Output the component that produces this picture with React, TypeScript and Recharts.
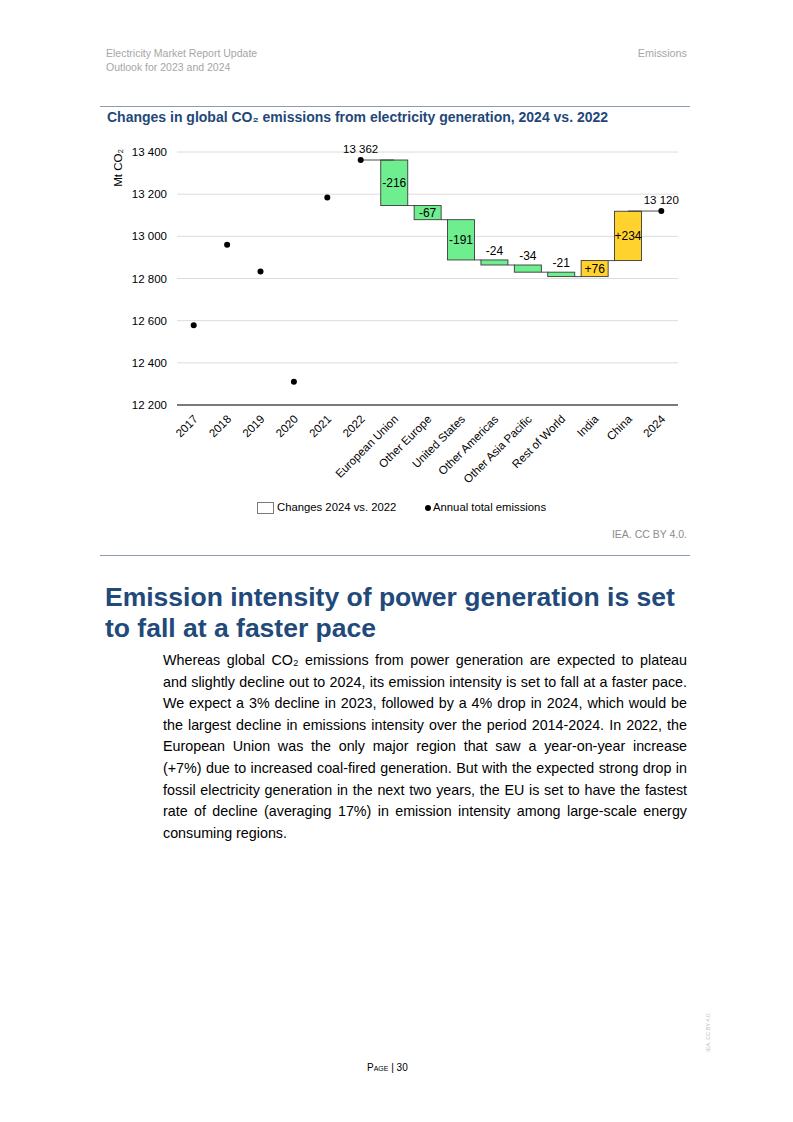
import React from "react";
import {
  ComposedChart,
  Bar,
  Line,
  XAxis,
  YAxis,
  CartesianGrid,
  LabelList,
} from "recharts";

const categories = [
  "2017", "2018", "2019", "2020", "2021", "2022",
  "European Union", "Other Europe", "United States", "Other Americas",
  "Other Asia Pacific", "Rest of World", "India", "China", "2024",
];
const annualTotals: (number | null)[] = [
  12578, 12960, 12833, 12310, 13184, 13362,
  null, null, null, null, null, null, null, null, 13120,
];
const changes: (number | null)[] = [
  null, null, null, null, null, null,
  -216, -67, -191, -24, -34, -21, 76, 234, null,
];
const yTicks = [12200, 12400, 12600, 12800, 13000, 13200, 13400];

const FONT = '"Liberation Sans", Arial, sans-serif';
const GREEN = "#6eee8e";
const YELLOW = "#ffd22e";
const EDGE = "#3a3a3a";

// waterfall ranges start from the last annual total before the bars
let level = 0;
const rows = categories.map((name, i) => {
  const total = annualTotals[i];
  const delta = changes[i];
  let range: [number, number] | null = null;
  if (delta != null) {
    const start = level;
    level = start + delta;
    range = [Math.min(start, level), Math.max(start, level)];
  } else if (total != null) {
    level = total;
  }
  return { name, total, delta, range, link: null as number | null };
});
rows.forEach((r, i) => {
  const prev = rows[i - 1];
  const next = rows[i + 1];
  if (r.total != null && next && next.delta != null) {
    r.link = r.total;
    next.link = r.total;
  }
  if (r.total != null && prev && prev.delta != null) {
    r.link = r.total;
    prev.link = r.total;
  }
});

const fmt = (v: number) =>
  String(Math.round(v)).replace(/\B(?=(\d{3})+(?!\d))/g, " ");

const WaterfallBar = (props: any) => {
  const { x, y, width, height, payload } = props;
  const i = categories.indexOf(payload?.name);
  const row = rows[i];
  if (!row || row.delta == null) return null;
  const neg = row.delta < 0;
  const band = width / 0.8;
  const endY = neg ? y + height : y;
  const next = rows[i + 1];
  const label = (neg ? "" : "+") + row.delta;
  const inside = Math.abs(row.delta) >= 50;
  return (
    <g>
      <rect
        x={x}
        y={y}
        width={width}
        height={height}
        fill={neg ? GREEN : YELLOW}
        stroke={EDGE}
        strokeWidth={0.9}
      />
      {next && next.delta != null && (
        <line x1={x + width} x2={x + band} y1={endY} y2={endY} stroke={EDGE} strokeWidth={0.9} />
      )}
      <text
        x={x + width / 2}
        y={inside ? y + height / 2 : y - 5}
        textAnchor="middle"
        dominantBaseline={inside ? "central" : "auto"}
        fontSize={12}
        fontFamily={FONT}
        fill="#000"
      >
        {label}
      </text>
    </g>
  );
};

const TotalLabel = (props: any) => {
  const { x, y, index } = props;
  const row = rows[index];
  if (!row || row.total == null || row.link == null) return null;
  return (
    <text x={x} y={y - 7} textAnchor="middle" fontSize={11.5} fontFamily={FONT} fill="#000">
      {fmt(row.total)}
    </text>
  );
};

const XTick = (props: any) => {
  const { x, y, payload } = props;
  const ax = x + 2;
  const ay = y + 4;
  return (
    <text
      x={ax}
      y={ay}
      transform={`rotate(-45 ${ax} ${ay})`}
      textAnchor="end"
      dominantBaseline="central"
      fontSize={11.5}
      fontFamily={FONT}
      fill="#000"
    >
      {payload.value}
    </text>
  );
};

const abs = (left: number, top: number, extra: React.CSSProperties = {}): React.CSSProperties => ({
  position: "absolute",
  left,
  top,
  fontFamily: FONT,
  whiteSpace: "nowrap",
  ...extra,
});

export default function App() {
  return (
    <div style={{ position: "absolute", left: 0, top: 0, width: 793, height: 1122, background: "#fff", fontFamily: FONT }}>
      <div style={abs(106, 47, { fontSize: 10.5, color: "#a6a6a6", lineHeight: "13.5px" })}>
        Electricity Market Report Update
        <br />
        Outlook for 2023 and 2024
      </div>
      <div style={abs(0, 47, { left: "auto", right: 106, fontSize: 10.8, color: "#a6a6a6", lineHeight: "13.5px" })}>
        Emissions
      </div>
      <div style={{ position: "absolute", left: 100, top: 106, width: 590, height: 1, background: "#8c9bb0" }} />
      <div style={abs(107, 109, { fontSize: 14, fontWeight: "bold", color: "#1f4878" })}>
        Changes in global CO₂ emissions from electricity generation, 2024 vs. 2022
      </div>

      <div
        style={abs(118, 168, {
          fontSize: 11.5,
          color: "#000",
          transform: "translate(-50%, -50%) rotate(-90deg)",
        })}
      >
        Mt CO₂
      </div>

      <div style={{ position: "absolute", left: 100, top: 130 }}>
        <ComposedChart
          width={600}
          height={365}
          data={rows}
          margin={{ top: 22, right: 22, left: 0, bottom: 0 }}
          barCategoryGap="10%"
        >
          <CartesianGrid vertical={false} stroke="#dcdcdc" strokeWidth={1} />
          <XAxis
            dataKey="name"
            interval={0}
            tick={<XTick />}
            tickLine={false}
            axisLine={{ stroke: "#7a7a7a", strokeWidth: 2 }}
            height={90}
          />
          <YAxis
            domain={[12200, 13400]}
            ticks={yTicks}
            tickFormatter={fmt}
            axisLine={false}
            tickLine={false}
            width={77}
            tick={{ fontSize: 11.5, fill: "#000", fontFamily: FONT, dx: -2 }}
            allowDataOverflow
          />
          <Bar dataKey="range" shape={<WaterfallBar />} isAnimationActive={false} />
          <Line
            dataKey="link"
            stroke={EDGE}
            strokeWidth={0.9}
            dot={false}
            connectNulls={false}
            isAnimationActive={false}
          />
          <Line
            dataKey="total"
            stroke="none"
            dot={{ r: 3, fill: "#000", stroke: "#000", strokeWidth: 0 }}
            activeDot={false}
            isAnimationActive={false}
          >
            <LabelList dataKey="total" content={<TotalLabel />} />
          </Line>
        </ComposedChart>
      </div>

      <div style={{ position: "absolute", left: 257, top: 502, width: 15, height: 10, border: "1px solid #7a7a7a", background: "#fff" }} />
      <div style={abs(277, 501, { fontSize: 11.3, color: "#000" })}>Changes 2024 vs. 2022</div>
      <div style={{ position: "absolute", left: 425, top: 505, width: 6, height: 6, borderRadius: 3, background: "#000" }} />
      <div style={abs(433, 501, { fontSize: 11.3, color: "#000" })}>Annual total emissions</div>

      <div style={abs(0, 528, { left: "auto", right: 106, fontSize: 10.5, color: "#8c8c8c" })}>IEA. CC BY 4.0.</div>
      <div style={{ position: "absolute", left: 100, top: 555, width: 590, height: 1, background: "#8c9bb0" }} />

      <div
        style={abs(105, 582, {
          fontSize: 26.5,
          fontWeight: "bold",
          color: "#21497a",
          lineHeight: "31px",
          whiteSpace: "normal",
          width: 600,
        })}
      >
        Emission intensity of power generation is set
        <br />
        to fall at a faster pace
      </div>

      <div
        style={abs(163, 650, {
          width: 524,
          fontSize: 14.3,
          lineHeight: "21.6px",
          textAlign: "justify",
          whiteSpace: "normal",
          color: "#000",
        })}
      >
        Whereas global CO₂ emissions from power generation are expected to plateau and slightly decline out to 2024,
        its emission intensity is set to fall at a faster pace. We expect a 3% decline in 2023, followed by a 4% drop in
        2024, which would be the largest decline in emissions intensity over the period 2014-2024. In 2022, the European
        Union was the only major region that saw a year-on-year increase (+7%) due to increased coal-fired generation.
        But with the expected strong drop in fossil electricity generation in the next two years, the EU is set to have
        the fastest rate of decline (averaging 17%) in emission intensity among large-scale energy consuming regions.
      </div>

      <div style={abs(367, 1062, { fontSize: 10, color: "#000", fontVariant: "small-caps" })}>Page | 30</div>
      <div
        style={abs(708, 1032, {
          fontSize: 5.5,
          color: "#c0c0c0",
          transform: "translate(-50%, -50%) rotate(-90deg)",
        })}
      >
        IEA. CC BY 4.0.
      </div>
    </div>
  );
}
